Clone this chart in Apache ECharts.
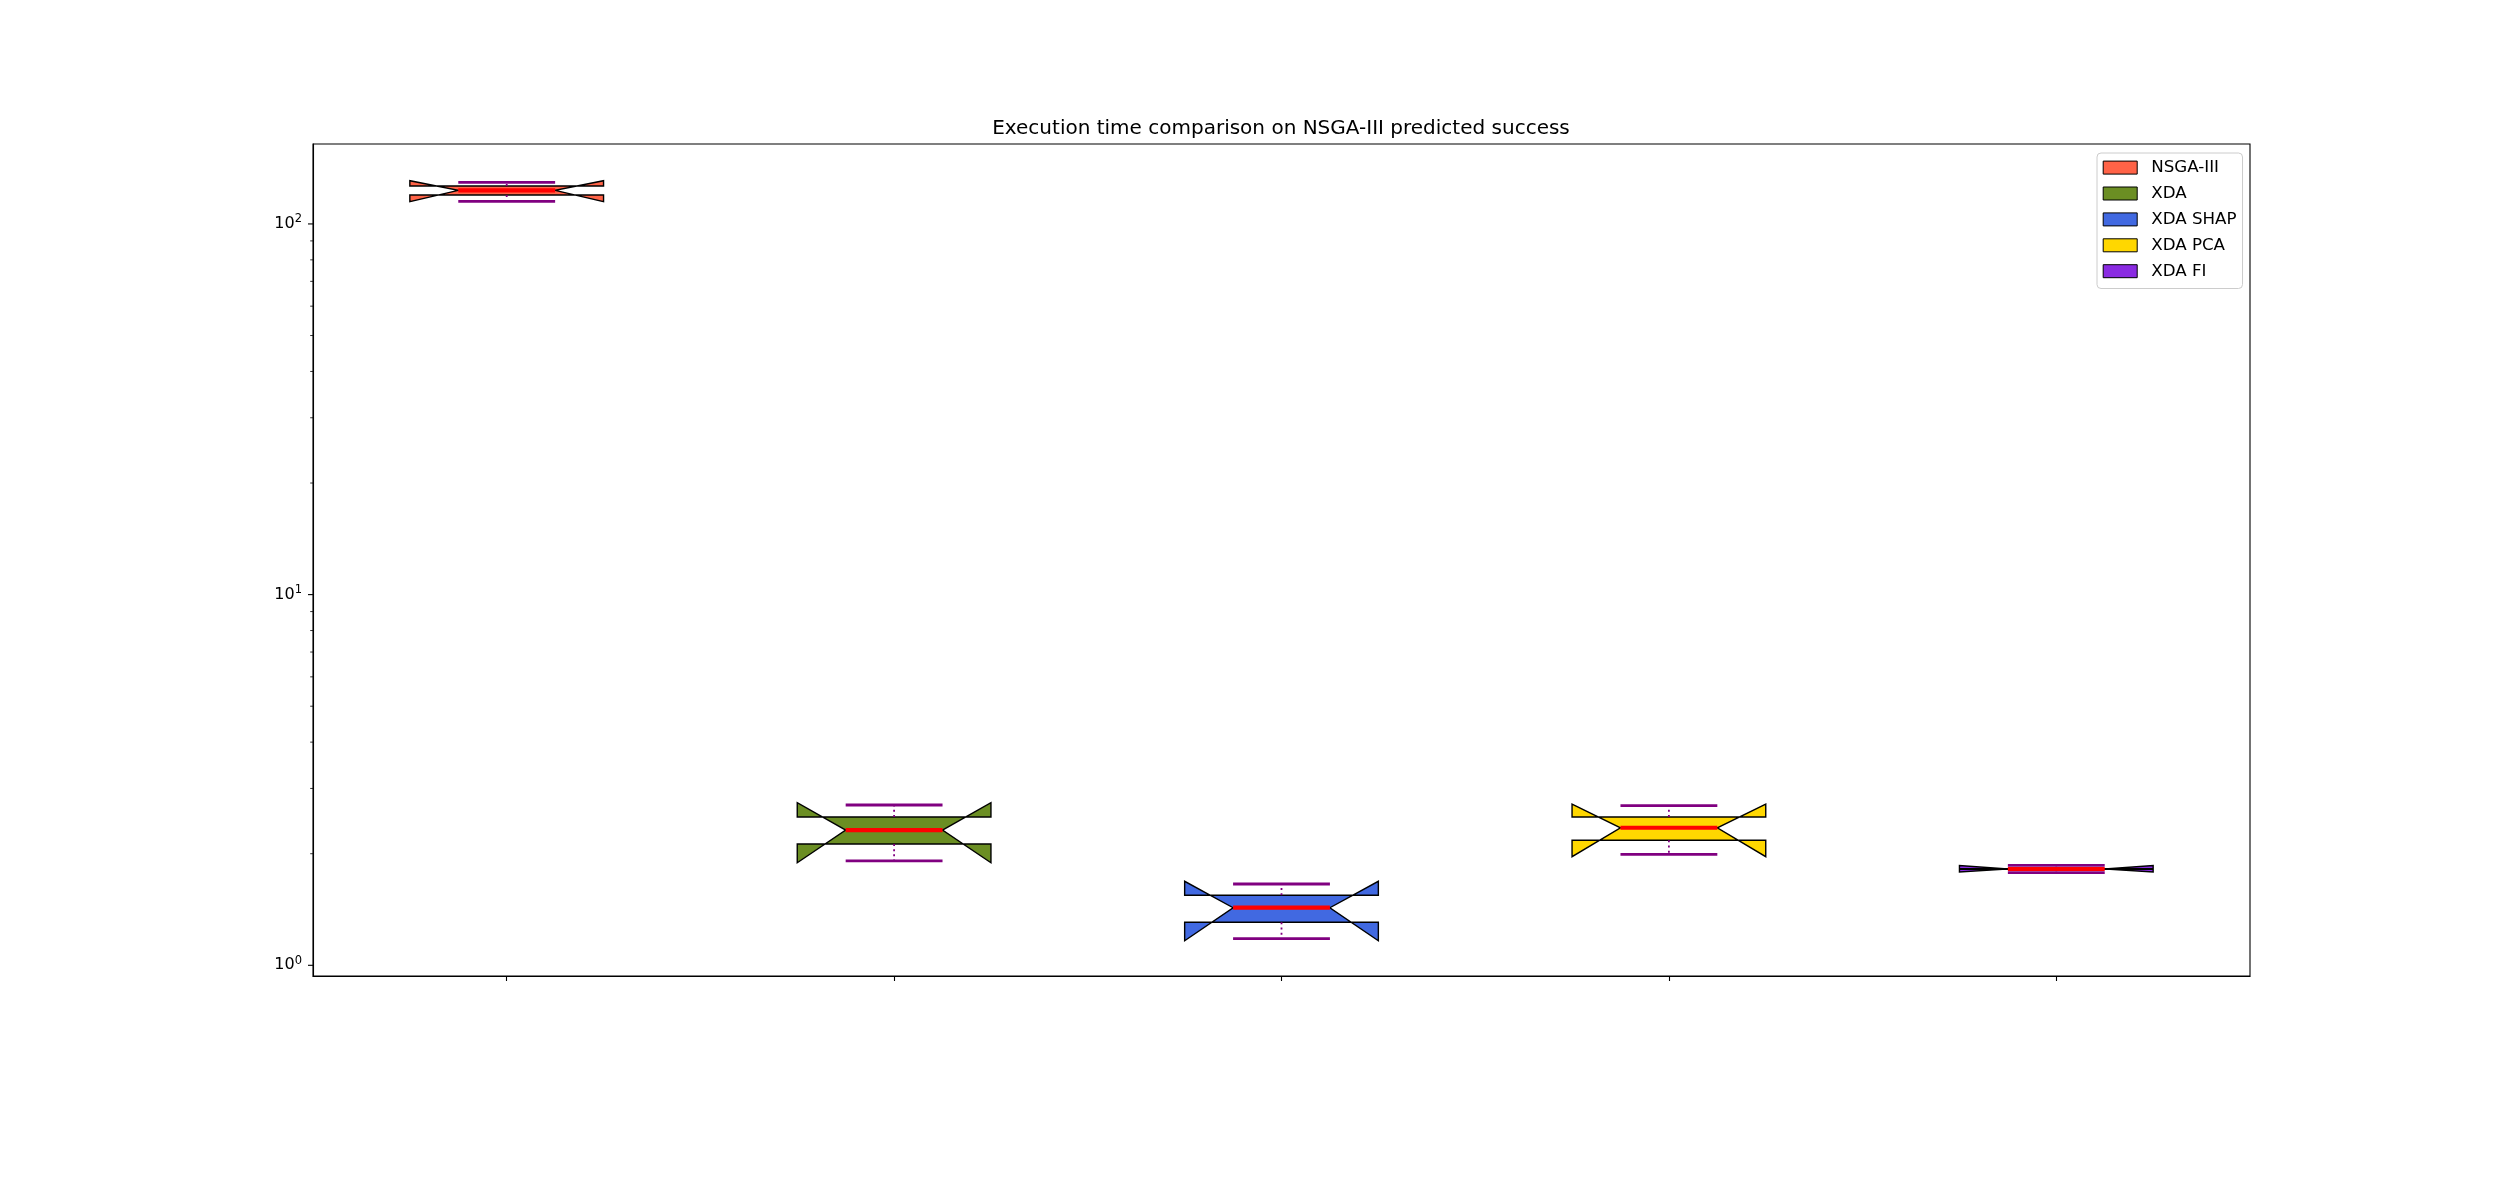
<!DOCTYPE html>
<html>
<head>
<meta charset="utf-8">
<script src="https://cdn.jsdelivr.net/npm/echarts@6/dist/echarts.min.js"></script>
<style>
  html, body { margin: 0; padding: 0; background: #ffffff; }
  #chart { width: 2500px; height: 1200px; }
</style>
</head>
<body>
<div id="chart"></div>
<script>
const titleText = 'Execution time comparison on NSGA-III predicted success';
const categories = ['NSGA-III', 'XDA', 'XDA SHAP', 'XDA PCA', 'XDA FI'];
const boxColors = ['#FF6347', '#6B8E23', '#4169E1', '#FFD700', '#8A2BE2'];
const whiskerLow = [115.1, 1.914, 1.180, 1.993, 1.778];
const q1 = [119.7, 2.125, 1.306, 2.174, 1.815];
const median = [123.2, 2.317, 1.430, 2.350, 1.819];
const q3 = [126.6, 2.512, 1.545, 2.512, 1.823];
const whiskerHigh = [129.5, 2.707, 1.657, 2.695, 1.860];
const notchLow = [114.8, 1.891, 1.165, 1.963, 1.785];
const notchHigh = [130.8, 2.746, 1.685, 2.723, 1.858];
const yMin = 0.9357;
const yMax = 164.3;
const yMajorTicks = [1, 10, 100];
const yMinorTicks = [2, 3, 4, 5, 6, 7, 8, 9, 20, 30, 40, 50, 60, 70, 80, 90];

const FONT = 'DejaVu Sans';
const chart = echarts.init(document.getElementById('chart'), null, { renderer: 'canvas' });

function renderBox(params, api) {
  const xi = api.value(0);
  const band = api.size([1, 1], [xi, 1])[0];
  const w = band * 0.5;
  const cx = api.coord([xi, api.value(3)])[0];
  const Y = k => api.coord([xi, api.value(k)])[1];
  const yWl = Y(1), yQ1 = Y(2), yMed = Y(3), yQ3 = Y(4), yWh = Y(5), yCl = Y(6), yCh = Y(7);
  const L = cx - w / 2, R = cx + w / 2, NL = cx - w / 4, NR = cx + w / 4;
  const color = api.visual('color');
  const purple = '#800080';
  return {
    type: 'group',
    children: [
      {
        type: 'polygon',
        shape: { points: [[L, yQ1], [R, yQ1], [R, yCl], [NR, yMed], [R, yCh], [R, yQ3], [L, yQ3], [L, yCh], [NL, yMed], [L, yCl]] },
        style: { fill: color, stroke: '#000', lineWidth: 1.4, lineJoin: 'miter', miterLimit: 20 }
      },
      { type: 'line', shape: { x1: cx, y1: yQ1, x2: cx, y2: yWl }, style: { stroke: purple, lineWidth: 1.8, lineDash: [2, 3.2] } },
      { type: 'line', shape: { x1: cx, y1: yQ3, x2: cx, y2: yWh }, style: { stroke: purple, lineWidth: 1.8, lineDash: [2, 3.2] } },
      { type: 'line', shape: { x1: NL, y1: yWl, x2: NR, y2: yWl }, style: { stroke: purple, lineWidth: 2.8 } },
      { type: 'line', shape: { x1: NL, y1: yWh, x2: NR, y2: yWh }, style: { stroke: purple, lineWidth: 2.8 } },
      { type: 'line', shape: { x1: NL, y1: yMed, x2: NR, y2: yMed }, style: { stroke: '#FF0000', lineWidth: 4.2 } }
    ]
  };
}

function renderTick(len, width) {
  return function (params, api) {
    const y = api.coord([0, api.value(1)])[1];
    const x = params.coordSys.x;
    return {
      type: 'line',
      shape: { x1: x - len, y1: y, x2: x, y2: y },
      style: { stroke: '#000', lineWidth: width }
    };
  };
}

const boxSeries = categories.map((name, i) => ({
  type: 'custom',
  name: name,
  renderItem: renderBox,
  itemStyle: { color: boxColors[i], borderColor: '#000', borderWidth: 1 },
  encode: { x: 0, y: [1, 2, 3, 4, 5, 6, 7] },
  data: [[i, whiskerLow[i], q1[i], median[i], q3[i], whiskerHigh[i], notchLow[i], notchHigh[i]]],
  z: 2
}));

const tickSeries = [
  {
    type: 'custom', name: '_major', renderItem: renderTick(5, 1.1), silent: true, clip: false,
    encode: { x: 0, y: 1 }, data: yMajorTicks.map(v => [0, v]), z: 3
  },
  {
    type: 'custom', name: '_minor', renderItem: renderTick(2.8, 0.8), silent: true, clip: false,
    encode: { x: 0, y: 1 }, data: yMinorTicks.map(v => [0, v]), z: 3
  }
];

const option = {
  backgroundColor: '#ffffff',
  animation: false,
  textStyle: { fontFamily: FONT },
  title: {
    text: titleText,
    left: 1281,
    textAlign: 'center',
    top: 117,
    padding: 0,
    textStyle: { fontFamily: FONT, fontSize: 20, fontWeight: 'normal', color: '#000', lineHeight: 24 }
  },
  legend: {
    data: categories,
    orient: 'vertical',
    left: 2097,
    top: 153,
    icon: 'rect',
    itemWidth: 34,
    itemHeight: 13,
    itemGap: 7.9,
    padding: [5.6, 6, 8.3, 5.7],
    backgroundColor: 'rgba(255,255,255,0.8)',
    borderColor: '#cccccc',
    borderWidth: 1,
    borderRadius: 4,
    itemStyle: { borderColor: '#000', borderWidth: 1 },
    textStyle: { fontFamily: FONT, fontSize: 16.7, color: '#000', lineHeight: 18, padding: [0, 0, 0, 9] },
    z: 10
  },
  grid: {
    left: 313, right: 250, top: 144, bottom: 224,
    show: true, borderColor: '#000', borderWidth: 1.1, backgroundColor: 'transparent'
  },
  xAxis: {
    type: 'category',
    data: categories,
    boundaryGap: true,
    axisLine: { show: true, lineStyle: { color: '#000', width: 1.1 } },
    axisTick: { show: true, alignWithLabel: true, length: 5, lineStyle: { color: '#000', width: 1.1 } },
    axisLabel: { show: false },
    splitLine: { show: false }
  },
  yAxis: {
    type: 'log',
    logBase: 10,
    min: yMin,
    max: yMax,
    axisLine: { show: true, lineStyle: { color: '#000', width: 1.1 } },
    axisTick: { show: false },
    splitLine: { show: false },
    minorTick: { show: false },
    axisLabel: {
      margin: 11,
      formatter: function (v) {
        const e = Math.log10(v);
        const r = Math.round(e);
        if (Math.abs(e - r) > 1e-6) return '';
        return '{b|10}{s|' + r + '}';
      },
      rich: {
        b: { fontFamily: FONT, fontSize: 16, color: '#000', lineHeight: 21, verticalAlign: 'middle' },
        s: { fontFamily: FONT, fontSize: 11.5, color: '#000', lineHeight: 15, verticalAlign: 'top' }
      }
    }
  },
  series: boxSeries.concat(tickSeries)
};

chart.setOption(option);
</script>
</body>
</html>
